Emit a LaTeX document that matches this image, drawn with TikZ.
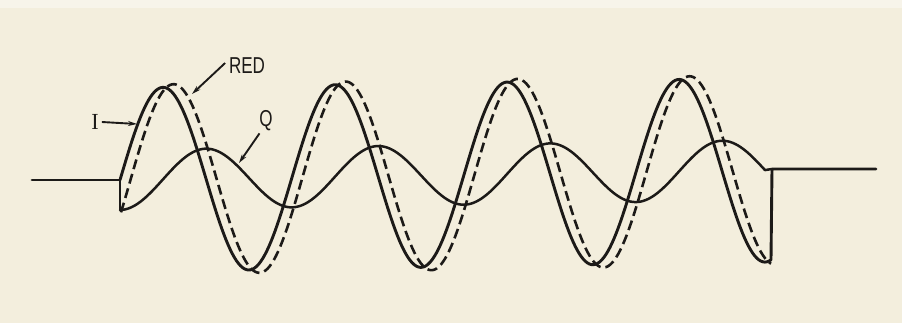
\documentclass[tikz,border=0pt]{standalone}
\usepackage{fontspec}
\setmainfont{Liberation Sans}
\newfontfamily\serifI{Liberation Serif}
\usetikzlibrary{arrows.meta}
\definecolor{paper}{RGB}{243,238,221}
\definecolor{topband}{RGB}{247,244,234}
\definecolor{ink}{RGB}{28,26,24}
\begin{document}
\begin{tikzpicture}[x=1pt,y=-1pt,
  wave/.style={ink, line width=2.9pt, line join=round, line cap=round},
  qwave/.style={ink, line width=2.5pt, line join=round, line cap=round},
  redwave/.style={ink, line width=2.6pt, dash pattern=on 10pt off 5pt},
  lbl/.style={ink, inner sep=1pt, font=\fontsize{23}{23}\selectfont, xscale=0.74},
  arr/.style={ink, line width=1.9pt, -{Stealth[length=9pt,width=5pt]}}]
\fill[paper] (0,0) rectangle (902,323);
\fill[topband] (0,0) rectangle (902,8);
\useasboundingbox (0,0) rectangle (902,323);
% fixed points
\coordinate (lb) at (32,180);
\coordinate (ls) at (120,180);
\coordinate (qs) at (120,210);
\coordinate (re) at (772,169);
\coordinate (rb) at (876,169);
% left baseline and step down to Q start
\draw[wave] (lb) -- (ls) -- (qs);
% I wave
\draw[wave] (ls) -- plot[domain=120:771, samples=320]
  (\x, {180-0.01536*(\x-120) - 92*sin(2.09302*(\x-120))}) -- (re) -- (rb);
% Q wave
\draw[qwave] (qs) -- plot[domain=120:765, samples=260]
  (\x, {180-0.01536*(\x-120) + 30*cos(2.09302*(\x-120))}) -- (re);
% RED (dashed)
\draw[redwave] plot[domain=121:771, samples=320]
  (\x, {180-0.01536*(\x-120) - 95*sin(2.09302*(\x-120)-22)});
% labels
\node[lbl] (red) at (247,66) {RED};
\node[lbl, font=\serifI\fontsize{23}{23}\selectfont, xscale=1.3] (ilab) at (95,122) {I};
\node[lbl] (qlab) at (266,121) {Q};
\coordinate (redtip) at (192,94);
\coordinate (itip) at (137,124);
\coordinate (qtip) at (239,163);
\draw[arr] ([xshift=-3pt,yshift=3pt]red.west) -- (redtip);
\draw[arr] ([xshift=2pt]ilab.east) -- (itip);
\draw[arr] ([xshift=1pt,yshift=-1pt]qlab.south west) -- (qtip);
\end{tikzpicture}
\end{document}
